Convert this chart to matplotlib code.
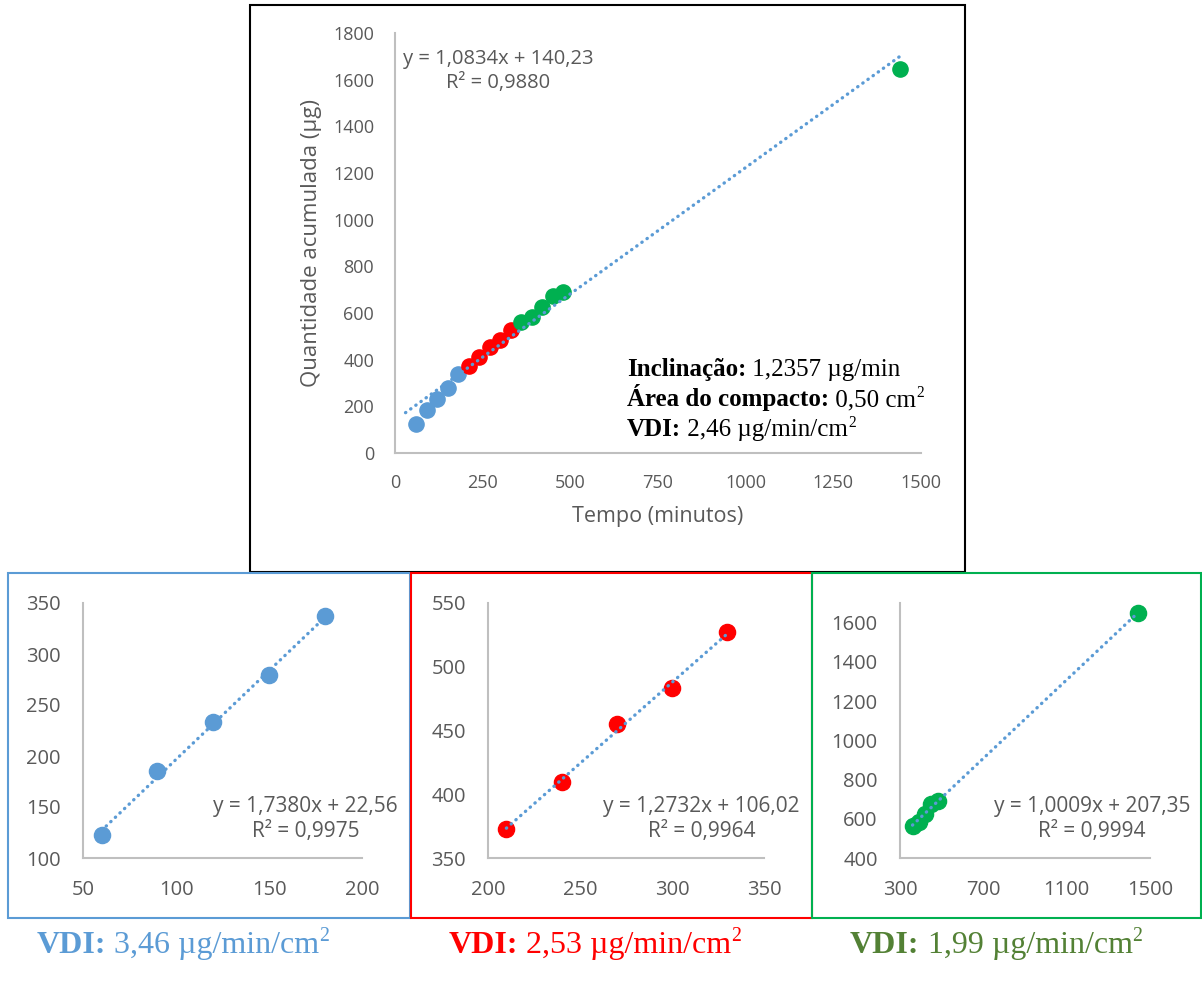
import numpy as np
import matplotlib
matplotlib.use("Agg")
import matplotlib.pyplot as plt
from matplotlib.patches import Rectangle

# dados (tempo em minutos, quantidade acumulada em ug)
t_azul = [60, 90, 120, 150, 180]
q_azul = [123, 185, 233, 279, 337]
t_verm = [210, 240, 270, 300, 330]
q_verm = [373, 410, 455, 483, 527]
t_verde = [360, 390, 420, 450, 480, 1440]
q_verde = [563, 585, 625, 675, 692, 1647]

eq_total = ["y = 1,0834x + 140,23", "R² = 0,9880"]
eq_azul = ["y = 1,7380x + 22,56", "R² = 0,9975"]
eq_verm = ["y = 1,2732x + 106,02", "R² = 0,9964"]
eq_verde = ["y = 1,0009x + 207,35", "R² = 0,9994"]

AZUL = "#5B9BD5"
VERM = "#FF0000"
VERDE = "#00B050"
VERDE_ESC = "#538135"
CINZA = "#595959"
EIXO = "#BFBFBF"

W, H = 1202, 985
plt.rcParams['font.family'] = ['Open Sans', 'DejaVu Sans']

fig = plt.figure(figsize=(W / 100, H / 100), dpi=100)


def px_axes(x0, x1, y0, y1):
    # y0 = topo, y1 = base, em pixels
    return fig.add_axes([x0 / W, 1 - y1 / H, (x1 - x0) / W, (y1 - y0) / H])


def estilo(ax, fs, pad_y, pad_x):
    for s in ["top", "right"]:
        ax.spines[s].set_visible(False)
    for s in ["left", "bottom"]:
        ax.spines[s].set_color(EIXO)
        ax.spines[s].set_linewidth(1.5)
    ax.tick_params(length=0, labelsize=fs, labelcolor=CINZA)
    ax.tick_params(axis="y", pad=pad_y)
    ax.tick_params(axis="x", pad=pad_x)


def tendencia(ax, x, y, xini, xfim):
    a, b = np.polyfit(x, y, 1)
    xs = np.array([xini, xfim])
    ax.plot(xs, a * xs + b, color=AZUL, lw=2.4, linestyle=(0, (0.1, 1.8)),
            dash_capstyle="round", zorder=4)


# ---- grafico principal ----
ax = px_axes(395, 921, 33, 453)
t_all = t_azul + t_verm + t_verde
q_all = q_azul + q_verm + q_verde
ax.scatter(t_azul, q_azul, s=120, color=AZUL, zorder=3)
ax.scatter(t_verm, q_verm, s=120, color=VERM, zorder=3)
ax.scatter(t_verde, q_verde, s=120, color=VERDE, zorder=3)
tendencia(ax, t_all, q_all, 30, 1440)
ax.set_xlim(0, 1500)
ax.set_ylim(0, 1800)
ax.set_xticks(np.arange(0, 1501, 250))
ax.set_yticks(np.arange(0, 1801, 200))
estilo(ax, 13, 15, 15)
ax.set_xlabel("Tempo (minutos)", fontsize=15.5, color=CINZA, labelpad=10)
ax.set_ylabel("Quantidade acumulada (µg)", fontsize=16, color=CINZA, labelpad=8)
ax.text(0.015, 0.909, eq_total[0] + "\n" + eq_total[1], transform=ax.transAxes,
        fontsize=14.5, color=CINZA, ha="left", va="center", multialignment="center",
        linespacing=1.3)

# ---- paineis inferiores ----
paineis = [
    (t_azul, q_azul, AZUL, eq_azul, (83, 362), (50, 200), np.arange(50, 201, 50),
     (100, 350), np.arange(100, 351, 50), (60, 180), 1.129),
    (t_verm, q_verm, VERM, eq_verm, (488, 764), (200, 350), np.arange(200, 351, 50),
     (350, 550), np.arange(350, 551, 50), (210, 330), 1.13),
    (t_verde, q_verde, VERDE, eq_verde, (900, 1150), (300, 1500), np.arange(300, 1501, 400),
     (400, 1700), np.arange(400, 1601, 200), (360, 1440), 1.16),
]
for x, y, cor, eq, (xa, xb), xl, xt, yl, yt, (ti, tf), xeq in paineis:
    a2 = px_axes(xa, xb, 603, 858)
    a2.scatter(x, y, s=135, color=cor, zorder=3)
    tendencia(a2, x, y, ti, tf)
    a2.set_xlim(*xl)
    a2.set_ylim(*yl)
    a2.set_xticks(xt)
    a2.set_yticks(yt)
    estilo(a2, 14.5, 16, 16)
    a2.text(xeq, 0.153, eq[0] + "\n" + eq[1], transform=a2.transAxes, fontsize=15,
            color=CINZA, ha="right", va="center", multialignment="center", linespacing=1.3)

# ---- molduras ----
fig.patches.append(Rectangle((250 / W, 1 - 572 / H), 715 / W, 567 / H, transform=fig.transFigure,
                             fill=False, ec="black", lw=1.5))
for (x0, x1), cor in [((8, 410), AZUL), ((411, 812), VERM), ((812, 1201), VERDE)]:
    fig.patches.append(Rectangle((x0 / W, 1 - 918 / H), (x1 - x0) / W, 345 / H,
                                 transform=fig.transFigure, fill=False, ec=cor, lw=1.5))

# ---- textos mistos (negrito + normal + sobrescrito) ----
fig.canvas.draw()
rend = fig.canvas.get_renderer()


def texto_misto(x, y, partes, cor, fs):
    # x, y em pixels (y a partir do topo), y = linha de base
    xc = x
    for txt, peso, sup in partes:
        tam = fs * 0.62 if sup else fs
        yy = y - fs * 0.36 * 1.39 if sup else y
        t = fig.text(xc / W, 1 - yy / H, txt, fontsize=tam, weight=peso, color=cor,
                     family="Liberation Serif", va="baseline", ha="left")
        xc += t.get_window_extent(rend).width


texto_misto(627, 376, [("Inclinação:", "bold", False), (" 1,2357 µg/min", "normal", False)],
            "black", 18)
texto_misto(627, 406, [("Área do compacto:", "bold", False), (" 0,50 cm", "normal", False),
                       ("2", "normal", True)], "black", 18)
texto_misto(627, 436, [("VDI:", "bold", False), (" 2,46 µg/min/cm", "normal", False),
                       ("2", "normal", True)], "black", 18)

for x0, val, cor in [(37, "3,46", AZUL), (449, "2,53", VERM), (850, "1,99", VERDE_ESC)]:
    texto_misto(x0, 953, [("VDI:", "bold", False), (" " + val + " µg/min/cm", "normal", False),
                          ("2", "normal", True)], cor, 23)

fig.savefig("out.png", dpi=100)
